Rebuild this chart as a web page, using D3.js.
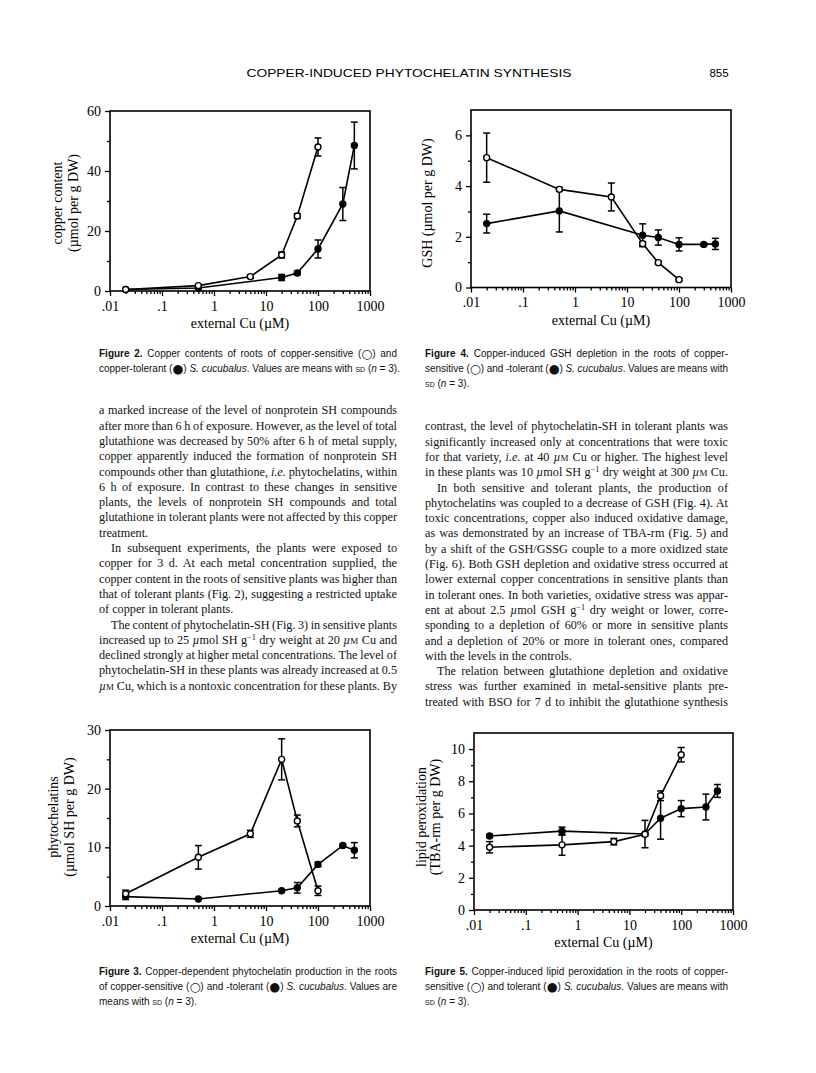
<!DOCTYPE html>
<html>
<head>
<meta charset="utf-8">
<script src="https://cdn.jsdelivr.net/npm/d3@7"></script>
<style>
  body { margin: 0; background: #fff; }
  #page { position: relative; width: 816px; height: 1073px; overflow: hidden; background: #fff; }
  #page svg { position: absolute; left: 0; top: 0; }
  .tl { position: absolute; white-space: nowrap; color: #111; }
  .sc { font-variant: small-caps; }
  .sym { font-family: "DejaVu Sans", sans-serif; font-size: 1.25em; line-height: 0; vertical-align: -0.05em; }
  sup { font-size: 0.68em; vertical-align: 0.45em; line-height: 0; }
</style>
</head>
<body>
<div id="page"></div>
<script>
const serif = '"Liberation Serif","Times New Roman",Times,serif';
const sans = '"Liberation Sans",Arial,Helvetica,sans-serif';

// external Cu (µM) where each variety was sampled
const cuSens = [0.02, 0.5, 5, 20, 40, 100];
const cuTol = [0.02, 0.5, 20, 40, 100, 300, 500];

// Fig. 2 copper content (µmol per g DW)
const copperSens = [0.5, 1.8, 4.8, 12, 25, 48];
const copperSensSd = [0.2, 0.3, 0.6, 1.0, 0.8, 3.0];
const copperTol = [0.5, 1.0, 4.5, 6.0, 14, 29, 48.5];
const copperTolSd = [0.2, 0.3, 1.0, 0.6, 3.0, 5.5, 7.8];

// Fig. 4 GSH (µmol per g DW)
const gshSens = [5.12, 3.87, 3.57, 1.73, 0.98, 0.31];
const gshSensSd = [0.97, 0.08, 0.55, 0.08, 0.06, 0.06];
const gshTol = [2.52, 3.02, 2.06, 1.97, 1.70, 1.70, 1.72];
const gshTolSd = [0.37, 0.83, 0.45, 0.30, 0.26, 0.05, 0.22];

// Fig. 3 phytochelatins (µmol SH per g DW)
const pcSens = [2.1, 8.3, 12.3, 25.0, 14.5, 2.6];
const pcSensSd = [0.6, 2.0, 0.6, 3.5, 1.0, 0.8];
const pcTol = [1.6, 1.2, 2.6, 3.1, 7.1, 10.3, 9.5];
const pcTolSd = [0.5, 0.1, 0.2, 0.9, 0.4, 0.2, 1.3];

// Fig. 5 lipid peroxidation (TBA-rm per g DW)
const lipidSens = [3.9, 4.05, 4.25, 4.7, 7.1, 9.65];
const lipidSensSd = [0.35, 0.65, 0.2, 0.1, 0.3, 0.45];
const lipidTol = [4.6, 4.9, 4.72, 5.7, 6.3, 6.4, 7.4];
const lipidTolSd = [0.1, 0.25, 0.85, 1.3, 0.5, 0.8, 0.4];

// ticks
const xTickValues = [0.01, 0.1, 1, 10, 100, 1000];
const xTickLabels = [".01", ".1", "1", "10", "100", "1000"];
const copperTicks = [0, 20, 40, 60], copperMinor = [10, 30, 50];
const gshTicks = [0, 2, 4, 6], gshMinor = [1, 3, 5];
const pcTicks = [0, 10, 20, 30], pcMinor = [5, 15, 25];
const lipidTicks = [0, 2, 4, 6, 8, 10], lipidMinor = [1, 3, 5, 7, 9];

// running text
const leftColumnLines = [
  {h: "a marked increase of the level of nonprotein SH compounds"},
  {h: "after more than 6 h of exposure. However, as the level of total"},
  {h: "glutathione was decreased by 50% after 6 h of metal supply,"},
  {h: "copper apparently induced the formation of nonprotein SH"},
  {h: "compounds other than glutathione, <i>i.e.</i> phytochelatins, within"},
  {h: "6 h of exposure. In contrast to these changes in sensitive"},
  {h: "plants, the levels of nonprotein SH compounds and total"},
  {h: "glutathione in tolerant plants were not affected by this copper"},
  {h: "treatment.", end: true},
  {h: "In subsequent experiments, the plants were exposed to", indent: true},
  {h: "copper for 3 d. At each metal concentration supplied, the"},
  {h: "copper content in the roots of sensitive plants was higher than"},
  {h: "that of tolerant plants (Fig. 2), suggesting a restricted uptake"},
  {h: "of copper in tolerant plants.", end: true},
  {h: "The content of phytochelatin-SH (Fig. 3) in sensitive plants", indent: true},
  {h: "increased up to 25 <i>µ</i>mol SH g<sup>−1</sup> dry weight at 20 <i>µ</i><span class='sc'>m</span> Cu and"},
  {h: "declined strongly at higher metal concentrations. The level of"},
  {h: "phytochelatin-SH in these plants was already increased at 0.5"},
  {h: "<i>µ</i><span class='sc'>m</span> Cu, which is a nontoxic concentration for these plants. By"}
];
const rightColumnLines = [
  {h: "contrast, the level of phytochelatin-SH in tolerant plants was"},
  {h: "significantly increased only at concentrations that were toxic"},
  {h: "for that variety, <i>i.e.</i> at 40 <i>µ</i><span class='sc'>m</span> Cu or higher. The highest level"},
  {h: "in these plants was 10 <i>µ</i>mol SH g<sup>−1</sup> dry weight at 300 <i>µ</i><span class='sc'>m</span> Cu."},
  {h: "In both sensitive and tolerant plants, the production of", indent: true},
  {h: "phytochelatins was coupled to a decrease of GSH (Fig. 4). At"},
  {h: "toxic concentrations, copper also induced oxidative damage,"},
  {h: "as was demonstrated by an increase of TBA-rm (Fig. 5) and"},
  {h: "by a shift of the GSH/GSSG couple to a more oxidized state"},
  {h: "(Fig. 6). Both GSH depletion and oxidative stress occurred at"},
  {h: "lower external copper concentrations in sensitive plants than"},
  {h: "in tolerant ones. In both varieties, oxidative stress was appar-"},
  {h: "ent at about 2.5 <i>µ</i>mol GSH g<sup>−1</sup> dry weight or lower, corre-"},
  {h: "sponding to a depletion of 60% or more in sensitive plants"},
  {h: "and a depletion of 20% or more in tolerant ones, compared"},
  {h: "with the levels in the controls.", end: true},
  {h: "The relation between glutathione depletion and oxidative", indent: true},
  {h: "stress was further examined in metal-sensitive plants pre-"},
  {h: "treated with BSO for 7 d to inhibit the glutathione synthesis"}
];

const open = "(<span class='sym'>○</span>)", full = "(<span class='sym'>●</span>)";
const caption2 = [
  {h: "<b>Figure 2.</b> Copper contents of roots of copper-sensitive " + open + " and"},
  {h: "copper-tolerant " + full + " <i>S. cucubalus</i>. Values are means with <span class='sc'>sd</span> (<i>n</i> = 3).", end: true}
];
const caption4 = [
  {h: "<b>Figure 4.</b> Copper-induced GSH depletion in the roots of copper-"},
  {h: "sensitive " + open + " and -tolerant " + full + " <i>S. cucubalus</i>. Values are means with"},
  {h: "<span class='sc'>sd</span> (<i>n</i> = 3).", end: true}
];
const caption3 = [
  {h: "<b>Figure 3.</b> Copper-dependent phytochelatin production in the roots"},
  {h: "of copper-sensitive " + open + " and -tolerant " + full + " <i>S. cucubalus</i>. Values are"},
  {h: "means with <span class='sc'>sd</span> (<i>n</i> = 3).", end: true}
];
const caption5 = [
  {h: "<b>Figure 5.</b> Copper-induced lipid peroxidation in the roots of copper-"},
  {h: "sensitive " + open + " and tolerant " + full + " <i>S. cucubalus</i>. Values are means with"},
  {h: "<span class='sc'>sd</span> (<i>n</i> = 3).", end: true}
];

const page = d3.select("#page");
const svg = page.append("svg").attr("width", 816).attr("height", 1073);

// running head
svg.append("text").attr("x", 409).attr("y", 77).attr("text-anchor", "middle")
  .attr("font-family", sans).attr("font-size", 11.5)
  .attr("textLength", 325).attr("lengthAdjust", "spacingAndGlyphs")
  .text("COPPER-INDUCED PHYTOCHELATIN SYNTHESIS");
svg.append("text").attr("x", 719).attr("y", 77).attr("text-anchor", "middle")
  .attr("font-family", sans).attr("font-size", 11.5).text("855");

function panel(c) {
  const x = d3.scaleLog().domain([0.01, 1000]).range([c.x0, c.x1]);
  const y = d3.scaleLinear().domain([0, c.ymax]).range([c.y0, c.y1]);
  const g = svg.append("g");

  // y axis
  const ya = g.append("g").attr("transform", `translate(${c.x0},0)`)
    .call(d3.axisLeft(y).tickValues(c.yTicks).tickSize(5).tickPadding(4).tickFormat(d3.format("d")));
  const ym = g.append("g").attr("transform", `translate(${c.x0},0)`)
    .call(d3.axisLeft(y).tickValues(c.yMinor).tickSize(3).tickFormat(""));
  // x axis
  const xa = g.append("g").attr("transform", `translate(0,${c.y0})`)
    .call(d3.axisBottom(x).tickValues(xTickValues).tickSize(5).tickPadding(5)
      .tickFormat((d, i) => xTickLabels[i]));
  const minor = x.ticks().filter(t => !xTickValues.some(v => Math.abs(v - t) / v < 1e-6));
  const xm = g.append("g").attr("transform", `translate(0,${c.y0})`)
    .call(d3.axisBottom(x).tickValues(minor).tickSize(3).tickFormat(""));
  [ya, ym, xa, xm].forEach(a => {
    a.select(".domain").remove();
    a.attr("font-family", serif).attr("font-size", 14);
    a.selectAll("line").attr("stroke", "#000").attr("stroke-width", 1.3);
    a.selectAll("text").attr("fill", "#000");
  });

  g.append("rect").attr("x", c.x0).attr("y", c.y1)
    .attr("width", c.x1 - c.x0).attr("height", c.y0 - c.y1)
    .attr("fill", "none").attr("stroke", "#000").attr("stroke-width", 1.6);

  // axis titles
  g.append("text").attr("x", (c.x0 + c.x1) / 2).attr("y", c.y0 + 37)
    .attr("text-anchor", "middle").attr("font-family", serif).attr("font-size", 14)
    .text("external Cu (µM)");
  c.yTitle.forEach((t, i) => {
    g.append("text").attr("transform", `translate(${c.yTitleX[i]},${c.yTitleY}) rotate(-90)`)
      .attr("text-anchor", "middle").attr("dominant-baseline", "central")
      .attr("font-family", serif).attr("font-size", 14).text(t);
  });

  const series = [
    {xs: cuTol, v: c.tol, sd: c.tolSd, fill: "#000"},
    {xs: cuSens, v: c.sens, sd: c.sensSd, fill: "#fff"}
  ];
  const line = d3.line().x(d => x(d.x)).y(d => y(d.v));
  series.forEach(s => {
    const pts = s.xs.map((xv, i) => ({x: xv, v: s.v[i], sd: s.sd[i]}));
    g.append("path").datum(pts).attr("d", line)
      .attr("fill", "none").attr("stroke", "#000").attr("stroke-width", 1.6);
    const eb = g.append("g").selectAll("g").data(pts).join("g");
    eb.append("line").attr("x1", d => x(d.x)).attr("x2", d => x(d.x))
      .attr("y1", d => y(d.v - d.sd)).attr("y2", d => y(d.v + d.sd));
    eb.append("line").attr("x1", d => x(d.x) - 3.5).attr("x2", d => x(d.x) + 3.5)
      .attr("y1", d => y(d.v + d.sd)).attr("y2", d => y(d.v + d.sd));
    eb.append("line").attr("x1", d => x(d.x) - 3.5).attr("x2", d => x(d.x) + 3.5)
      .attr("y1", d => y(d.v - d.sd)).attr("y2", d => y(d.v - d.sd));
    eb.selectAll("line").attr("stroke", "#000").attr("stroke-width", 1.5);
    s.pts = pts;
  });
  series.forEach(s => {
    g.append("g").selectAll("circle").data(s.pts).join("circle")
      .attr("cx", d => x(d.x)).attr("cy", d => y(d.v)).attr("r", 3)
      .attr("fill", s.fill).attr("stroke", "#000").attr("stroke-width", 1.4);
  });
}

panel({x0: 110, x1: 370, y0: 291, y1: 111, ymax: 60, yTicks: copperTicks, yMinor: copperMinor,
  sens: copperSens, sensSd: copperSensSd, tol: copperTol, tolSd: copperTolSd,
  yTitle: ["copper content", "(µmol per g DW)"], yTitleX: [57, 73], yTitleY: 203});
panel({x0: 471, x1: 731, y0: 287.5, y1: 110, ymax: 7, yTicks: gshTicks, yMinor: gshMinor,
  sens: gshSens, sensSd: gshSensSd, tol: gshTol, tolSd: gshTolSd,
  yTitle: ["GSH (µmol per g DW)"], yTitleX: [427], yTitleY: 203});
panel({x0: 110, x1: 370, y0: 906, y1: 730, ymax: 30, yTicks: pcTicks, yMinor: pcMinor,
  sens: pcSens, sensSd: pcSensSd, tol: pcTol, tolSd: pcTolSd,
  yTitle: ["phytochelatins", "(µmol SH per g DW)"], yTitleX: [53, 69], yTitleY: 817});
panel({x0: 474, x1: 733, y0: 910, y1: 733, ymax: 11, yTicks: lipidTicks, yMinor: lipidMinor,
  sens: lipidSens, sensSd: lipidSensSd, tol: lipidTol, tolSd: lipidTolSd,
  yTitle: ["lipid peroxidation", "(TBA-rm per g DW)"], yTitleX: [421, 435], yTitleY: 817});

// justified lines, one div per printed line
function textLines(lines, left, top, width, step, font, size) {
  lines.forEach((ln, i) => {
    const d = page.append("div").attr("class", "tl")
      .style("left", left + "px").style("top", (top + i * step - step / 2) + "px")
      .style("font-family", font).style("font-size", size + "px")
      .style("line-height", step + "px")
      .style("padding-left", ln.indent ? "12px" : "0px")
      .html(ln.h);
    if (!ln.end) {
      const w = d.node().getBoundingClientRect().width;
      const gaps = d.node().textContent.split(" ").length - 1;
      if (gaps > 0) d.style("word-spacing", ((width - w) / gaps) + "px");
    }
  });
}

textLines(caption2, 99, 353, 298, 15, sans, 10);
textLines(caption4, 425, 353, 303, 15, sans, 10);
textLines(leftColumnLines, 99, 411, 298, 15.3, serif, 12.2);
textLines(rightColumnLines, 425, 427, 303, 15.3, serif, 12.2);
textLines(caption3, 99, 971, 298, 15, sans, 10);
textLines(caption5, 425, 971, 303, 15, sans, 10);
</script>
</body>
</html>
